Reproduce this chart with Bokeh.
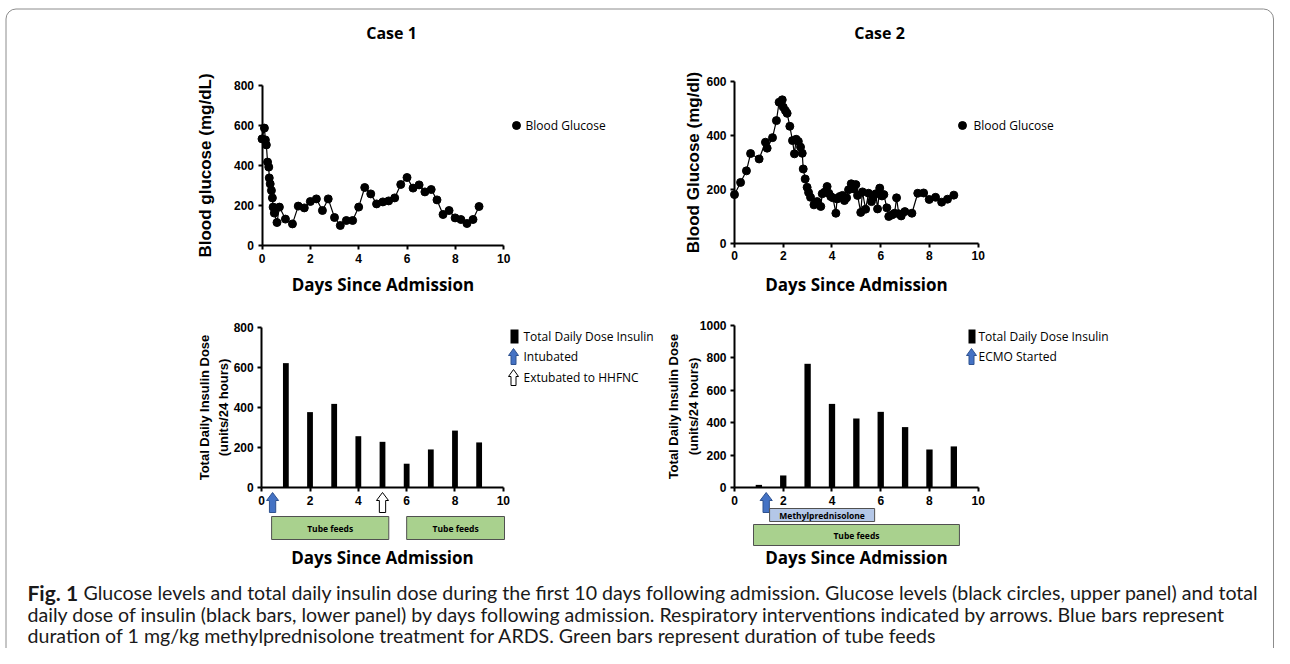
from bokeh.plotting import figure
from bokeh.models import Range1d, LinearAxis, FixedTicker
from bokeh.core.properties import value
from bokeh.embed import file_html
from bokeh.resources import INLINE

# ---------------- data ----------------
case_titles = ["Case 1", "Case 2"]
day_ticks = [0, 2, 4, 6, 8, 10]
glucose1_ticks = [0, 200, 400, 600, 800]
glucose2_ticks = [0, 200, 400, 600]
insulin1_ticks = [0, 200, 400, 600, 800]
insulin2_ticks = [0, 200, 400, 600, 800, 1000]

case1_glucose_days = [0, 0.1, 0.14, 0.18, 0.23, 0.28, 0.3, 0.34, 0.39, 0.43,
                      0.46, 0.51, 0.62, 0.72, 0.97, 1.26, 1.5, 1.75, 2.0, 2.25,
                      2.5, 2.74, 3.0, 3.24, 3.49, 3.75, 4.0, 4.25, 4.5, 4.74,
                      5.0, 5.24, 5.49, 5.74, 6.0, 6.25, 6.5, 6.74, 7.0, 7.24,
                      7.49, 7.74, 7.99, 8.23, 8.48, 8.73, 8.98]
case1_glucose = [533, 587, 528, 503, 417, 392, 338, 308, 275, 238,
                 192, 162, 115, 192, 132, 108, 197, 188, 220, 233,
                 175, 233, 140, 100, 125, 125, 192, 290, 258, 208,
                 218, 223, 238, 305, 340, 287, 303, 268, 280, 228,
                 155, 175, 138, 130, 110, 130, 195]

case2_glucose_days = [0, 0.25, 0.49, 0.66, 1.01, 1.27, 1.34, 1.56, 1.72, 1.83,
                      1.96, 2.0, 2.09, 2.16, 2.27, 2.38, 2.46, 2.53, 2.62, 2.71,
                      2.78, 2.82, 2.9, 2.98, 3.04, 3.12, 3.26, 3.39, 3.54, 3.6,
                      3.69, 3.8, 3.87, 3.95, 4.04, 4.16, 4.21, 4.32, 4.43, 4.51,
                      4.6, 4.68, 4.79, 4.9, 4.98, 5.05, 5.18, 5.25, 5.38, 5.5,
                      5.62, 5.69, 5.8, 5.87, 5.96, 6.05, 6.13, 6.25, 6.33, 6.47,
                      6.57, 6.65, 6.74, 6.84, 6.99, 7.28, 7.52, 7.76, 7.99, 8.25,
                      8.5, 8.74, 9.0]
case2_glucose = [180, 225, 268, 332, 312, 374, 352, 391, 454, 522,
                 531, 504, 491, 481, 433, 380, 331, 385, 377, 356,
                 333, 275, 238, 207, 188, 170, 142, 154, 136, 183,
                 189, 210, 185, 173, 168, 111, 164, 173, 177, 158,
                 168, 198, 220, 201, 217, 177, 114, 190, 126, 185,
                 154, 170, 183, 127, 204, 175, 180, 131, 99, 105,
                 111, 168, 109, 101, 117, 111, 185, 186, 162, 170,
                 152, 163, 178]

insulin_days = [1, 2, 3, 4, 5, 6, 7, 8, 9]
case1_insulin = [621, 377, 418, 257, 229, 120, 191, 285, 226]
case2_insulin = [18, 76, 764, 517, 427, 468, 374, 236, 255]

case1_intubated_day = [0.45]
case1_extubated_day = [5.0]
case2_ecmo_day = [1.3]
case1_tube_start = [0.41, 6.0]
case1_tube_end = [5.26, 10.05]
case2_tube_start = [0.78]
case2_tube_end = [9.23]
case2_methyl_start = [1.44]
case2_methyl_end = [5.75]

caption_bold = "Fig. 1"
caption_lines = [
    "Glucose levels and total daily insulin dose during the first 10 days following admission. Glucose levels (black circles, upper panel) and total",
    "daily dose of insulin (black bars, lower panel) by days following admission. Respiratory interventions indicated by arrows. Blue bars represent",
    "duration of 1 mg/kg methylprednisolone treatment for ARDS. Green bars represent duration of tube feeds",
]

# ---------------- layout helpers ----------------
W, H = 1274, 648


def px_range(p0, p1, v0, v1, total):
    k = (p1 - p0) / (v1 - v0)
    return Range1d(start=v0 + (0 - p0) / k, end=v0 + (total - p0) / k)


def xr(px0, px10):
    return px_range(px0, px10, 0, 10, W)


def yr(py0, pytop, vtop):
    # pixel positions measured from the top of the canvas
    return px_range(H - py0, H - pytop, 0, vtop, H)


p = figure(width=W, height=H, x_range=Range1d(0, W), y_range=Range1d(H, 0),
           x_axis_type=None, y_axis_type=None, toolbar_location=None,
           output_backend="svg", min_border=0, outline_line_color=None)
p.background_fill_color = "white"
p.border_fill_color = "white"

p.extra_x_ranges = {"p1x": xr(261.5, 503.2), "p2x": xr(734, 977.7),
                    "p3x": xr(261.2, 502.8), "p4x": xr(734, 977.7)}
p.extra_y_ranges = {"p1y": yr(245, 85, 800), "p2y": yr(242.7, 80.7, 600),
                    "p3y": yr(487.3, 326.7, 800), "p4y": yr(487.3, 325, 1000)}

# figure frame
p.quad(left=5.5, right=1273, top=8.5, bottom=720, border_radius=10,
       fill_color=None, line_color="#8c8c8c", line_width=1)


def style_axis(ax, lab_standoff, lab_font, lab_size):
    ax.axis_line_width = 2
    ax.axis_line_color = "black"
    ax.major_tick_line_width = 2
    ax.major_tick_in = 0
    ax.major_tick_out = 4
    ax.minor_tick_line_color = None
    ax.major_label_text_font = "Liberation Sans"
    ax.major_label_text_font_style = "bold"
    ax.major_label_text_font_size = "12px"
    ax.major_label_text_color = "black"
    ax.major_label_standoff = 4
    ax.axis_label_standoff = lab_standoff
    ax.axis_label_text_font = lab_font
    ax.axis_label_text_font_style = "bold"
    ax.axis_label_text_font_size = lab_size
    ax.axis_label_text_color = "black"


def add_axes(key, yticks, ytop, ylabel, ylab_size, ylab_standoff, xlab_standoff):
    xa = LinearAxis(x_range_name=key + "x", y_range_name=key + "y", fixed_location=0,
                    bounds=(0, 10), ticker=FixedTicker(ticks=day_ticks),
                    axis_label="Days Since Admission")
    style_axis(xa, xlab_standoff, "Open Sans", "17px")
    p.add_layout(xa, "below")
    ya = LinearAxis(x_range_name=key + "x", y_range_name=key + "y", fixed_location=0,
                    bounds=(0, ytop), ticker=FixedTicker(ticks=yticks),
                    axis_label=ylabel)
    style_axis(ya, ylab_standoff, "Liberation Sans", ylab_size)
    ya.axis_label_text_line_height = 1.3
    p.add_layout(ya, "left")


add_axes("p1", glucose1_ticks, 800, "Blood glucose (mg/dL)", "17px", 16, 7)
add_axes("p2", glucose2_ticks, 600, "Blood Glucose (mg/dl)", "17px", 0, 9)
add_axes("p3", insulin1_ticks, 800, "Total Daily Insulin Dose\n(units/24 hours)", "13px", -1, 38)
add_axes("p4", insulin2_ticks, 1000, "Total Daily Insulin Dose\n(units/24 hours)", "13px", -4, 38)

# glucose series
for key, d, g in (("p1", case1_glucose_days, case1_glucose), ("p2", case2_glucose_days, case2_glucose)):
    p.line(d, g, line_color="black", line_width=1.2, x_range_name=key + "x", y_range_name=key + "y")
    p.scatter(d, g, size=8, marker="circle", fill_color="black", line_color="black",
              x_range_name=key + "x", y_range_name=key + "y")

# insulin bars
p.vbar(x=insulin_days, top=case1_insulin, bottom=0, width=0.24, fill_color="black",
       line_color=None, x_range_name="p3x", y_range_name="p3y")
p.vbar(x=insulin_days, top=case2_insulin, bottom=0, width=0.26, fill_color="black",
       line_color=None, x_range_name="p4x", y_range_name="p4y")


def block_arrow(cx, y_top, y_bottom, head_w, shaft_w, head_h):
    xs = [cx, cx + head_w / 2, cx + shaft_w / 2, cx + shaft_w / 2,
          cx - shaft_w / 2, cx - shaft_w / 2, cx - head_w / 2]
    ys = [y_top, y_top + head_h, y_top + head_h, y_bottom,
          y_bottom, y_top + head_h, y_top + head_h]
    return xs, ys


BLUE, BLUE_EDGE = "#4472c4", "#2f528f"
GREEN, BLUE_BOX = "#a9d18e", "#b4c7e7"


def event_arrows(key, days, fill, edge):
    xs, ys = [], []
    for d in days:
        ax_, ay_ = block_arrow(d, 492, 512, 0.5, 0.26, 8)
        xs.append(ax_)
        ys.append(ay_)
    p.patches(xs, ys, fill_color=fill, line_color=edge, line_width=1, x_range_name=key)


event_arrows("p3x", case1_intubated_day, BLUE, BLUE_EDGE)
event_arrows("p3x", case1_extubated_day, "white", "black")
event_arrows("p4x", case2_ecmo_day, BLUE, BLUE_EDGE)


def bands(key, starts, ends, top, bottom, fill, label):
    p.quad(left=starts, right=ends, top=[top] * len(starts), bottom=[bottom] * len(starts),
           fill_color=fill, line_color="#505050", line_width=1, x_range_name=key)
    p.text(x=[(s + e) / 2 for s, e in zip(starts, ends)], y=[(top + bottom) / 2] * len(starts),
           text=[label] * len(starts), text_font=value("Open Sans"), text_font_style="bold",
           text_font_size=value("8.5px"), text_align="center", text_baseline="middle",
           text_color="black", x_range_name=key)


bands("p3x", case1_tube_start, case1_tube_end, 516, 539, GREEN, "Tube feeds")
bands("p4x", case2_methyl_start, case2_methyl_end, 508, 521, BLUE_BOX, "Methylprednisolone")
bands("p4x", case2_tube_start, case2_tube_end, 524, 545, GREEN, "Tube feeds")

# ---------------- legends ----------------
p.scatter([516, 962], [125, 125], size=8, marker="circle", fill_color="black", line_color="black")
p.quad(left=[510, 968], right=[518, 975], top=[329, 329], bottom=[343, 343],
       fill_color="black", line_color=None)
lx, ly = [], []
for cx, y0 in ((513, 348), (971, 348)):
    a, b = block_arrow(cx, y0, y0 + 16, 10, 5, 7)
    lx.append(a)
    ly.append(b)
p.patches(lx, ly, fill_color=BLUE, line_color=BLUE_EDGE, line_width=1)
a, b = block_arrow(513, 369, 385, 10, 5, 7)
p.patches([a], [b], fill_color="white", line_color="black", line_width=1)

legend_font = dict(text_font=value("Open Sans"), text_font_size=value("12px"),
                   text_align="left", text_baseline="middle", text_color="black")
p.text(x=[525, 973, 523, 523, 523, 978, 978],
       y=[125, 125, 336, 356, 377, 336, 356],
       text=["Blood Glucose", "Blood Glucose", "Total Daily Dose Insulin", "Intubated",
             "Extubated to HHFNC", "Total Daily Dose Insulin", "ECMO Started"],
       **legend_font)

# ---------------- titles & caption ----------------
p.text(x=[391, 879], y=[32, 32], text=case_titles, text_font=value("Open Sans"),
       text_font_style="bold", text_font_size=value("16px"), text_align="center",
       text_baseline="middle", text_color="black")

p.text(x=[27], y=[592], text=[caption_bold], text_font=value("Lato"), text_font_style="bold",
       text_font_size=value("21px"), text_align="left", text_baseline="middle", text_color="#1a1a1a")
p.text(x=[83, 27, 27], y=[592, 614, 635], text=caption_lines, text_font=value("Lato"),
       text_font_size=value("19.6px"), text_align="left", text_baseline="middle", text_color="#1a1a1a")

open("out.html", "w").write(file_html(p, INLINE))
